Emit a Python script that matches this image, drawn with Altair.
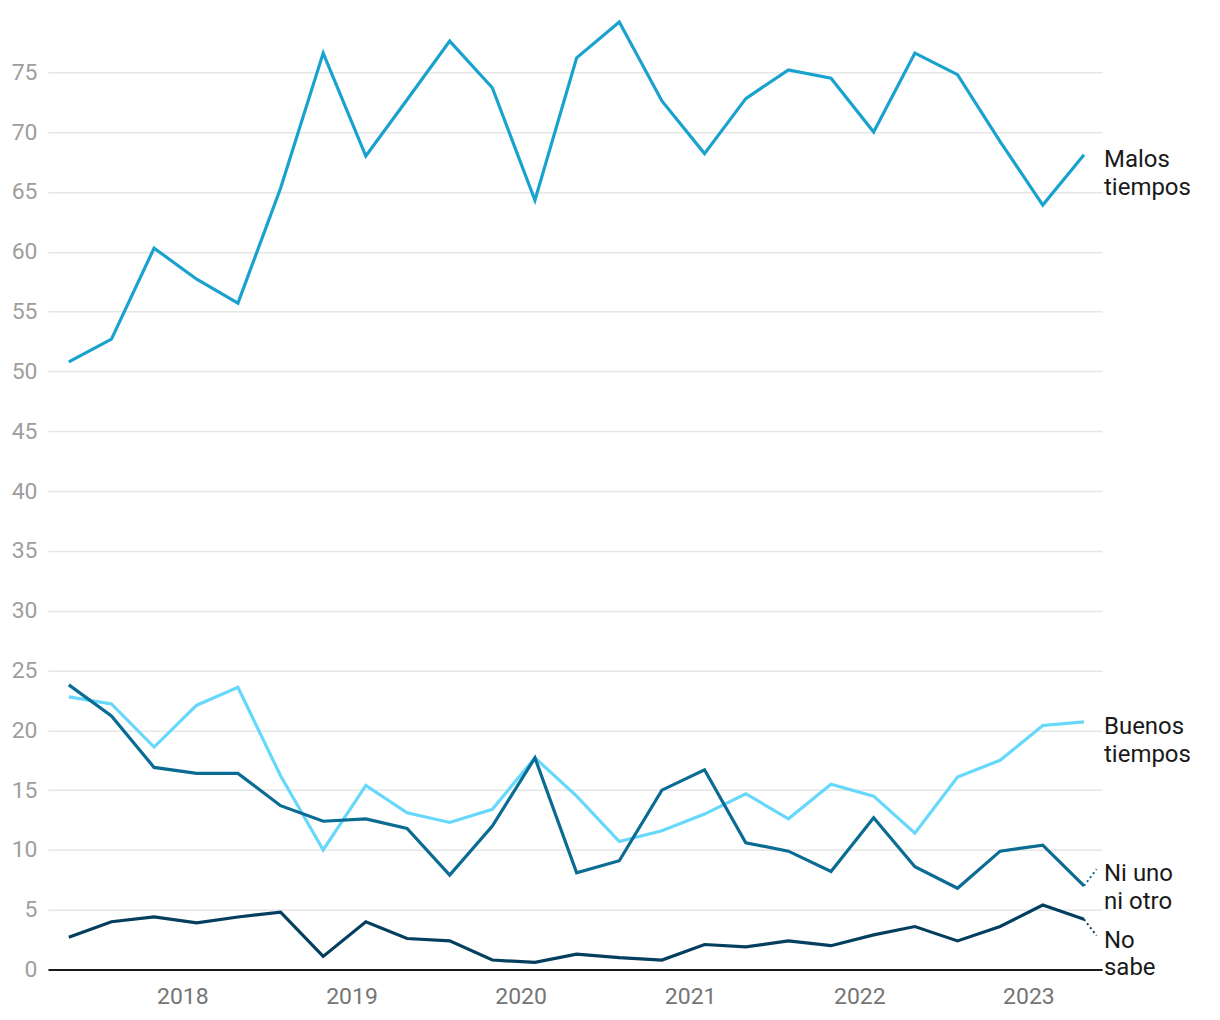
import altair as alt
import pandas as pd

# Quarterly survey dates
fechas = [
    "2017-05-01", "2017-08-01", "2017-11-01", "2018-02-01", "2018-05-01",
    "2018-08-01", "2018-11-01", "2019-02-01", "2019-05-01", "2019-08-01",
    "2019-11-01", "2020-02-01", "2020-05-01", "2020-08-01", "2020-11-01",
    "2021-02-01", "2021-05-01", "2021-08-01", "2021-11-01", "2022-02-01",
    "2022-05-01", "2022-08-01", "2022-11-01", "2023-02-01", "2023-05-01",
]

malos = [50.8, 52.7, 60.3, 57.7, 55.7, 65.3, 76.6, 68.0, 72.7, 77.6, 73.7, 64.3, 76.2,
         79.2, 72.6, 68.2, 72.8, 75.2, 74.5, 70.0, 76.6, 74.8, 69.2, 63.9, 68.1]
buenos = [22.8, 22.2, 18.6, 22.1, 23.6, 16.2, 10.0, 15.4, 13.1, 12.3, 13.4, 17.7, 14.5,
          10.7, 11.6, 13.0, 14.7, 12.6, 15.5, 14.5, 11.4, 16.1, 17.5, 20.4, 20.7]
ni_uno = [23.8, 21.2, 16.9, 16.4, 16.4, 13.7, 12.4, 12.6, 11.8, 7.9, 12.0, 17.7, 8.1,
          9.1, 15.0, 16.7, 10.6, 9.9, 8.2, 12.7, 8.6, 6.8, 9.9, 10.4, 7.0]
no_sabe = [2.7, 4.0, 4.4, 3.9, 4.4, 4.8, 1.1, 4.0, 2.6, 2.4, 0.8, 0.6, 1.3,
           1.0, 0.8, 2.1, 1.9, 2.4, 2.0, 2.9, 3.6, 2.4, 3.6, 5.4, 4.2]

series = ["Malos tiempos", "Buenos tiempos", "Ni uno ni otro", "No sabe"]
colores = ["#1aa2cf", "#66d8fb", "#0a6b93", "#053f5f"]
etiquetas = ["Malos\ntiempos", "Buenos\ntiempos", "Ni uno\nni otro", "No\nsabe"]
etiqueta_y = [68.1, 20.7, 8.4, 2.85]
fin_guia = "2023-05-28"

valores = [malos, buenos, ni_uno, no_sabe]

rows = []
for s, vals in zip(series, valores):
    for f, v in zip(fechas, vals):
        rows.append({"fecha": f + "T00:00:00", "serie": s, "valor": v})
df = pd.DataFrame(rows)

lab = pd.DataFrame({
    "serie": series,
    "texto": etiquetas,
    "fecha": [fechas[-1] + "T00:00:00"] * 4,
    "valor": etiqueta_y,
})

guia_rows = []
for s, vals, ly in zip(series[2:], valores[2:], etiqueta_y[2:]):
    guia_rows.append({"serie": s, "fecha": fechas[-1] + "T00:00:00", "valor": vals[-1]})
    guia_rows.append({"serie": s, "fecha": fin_guia + "T00:00:00", "valor": ly})
guia = pd.DataFrame(guia_rows)

xscale = alt.Scale(domain=["2017-03-17T00:00:00", "2023-06-09T00:00:00"])
yscale = alt.Scale(domain=[0, 80], nice=False)
cscale = alt.Scale(domain=series, range=colores)

x_enc = alt.X("fecha:T", scale=xscale, title=None,
              axis=alt.Axis(format="%Y", tickCount={"interval": "year", "step": 1},
                            grid=False, ticks=False, tickSize=0,
                            domainColor="#1a1a1a", domainWidth=2,
                            labelFontSize=23, labelColor="#757575", labelPadding=16,
                            labelFont="Roboto"))
y_enc = alt.Y("valor:Q", scale=yscale, title=None,
              axis=alt.Axis(values=list(range(0, 80, 5)), grid=True,
                            gridColor="#e6e6e6", gridWidth=1.5, domain=False,
                            ticks=False, tickSize=0, labelFontSize=23,
                            labelColor="#9e9e9e", labelPadding=11, labelFont="Roboto"))

lines = alt.Chart(df).mark_line(strokeWidth=3.2).encode(
    x=x_enc, y=y_enc,
    color=alt.Color("serie:N", scale=cscale, legend=None),
    order=alt.Order("fecha:T"),
)

leaders = alt.Chart(guia).mark_line(strokeWidth=2, strokeDash=[2, 3]).encode(
    x=alt.X("fecha:T", scale=xscale),
    y=alt.Y("valor:Q", scale=yscale),
    color=alt.Color("serie:N", scale=cscale, legend=None),
    detail="serie:N",
)

labels = alt.Chart(lab).mark_text(
    align="left", baseline="alphabetic", dx=20, dy=12, fontSize=24,
    font="Roboto", color="#1a1a1a", lineBreak="\n", lineHeight=28,
).encode(
    x=alt.X("fecha:T", scale=xscale),
    y=alt.Y("valor:Q", scale=yscale),
    text="texto:N",
)

chart = alt.layer(lines, leaders, labels).properties(
    width=1055, height=958,
    autosize=alt.AutoSizeParams(type="none"),
    padding={"left": 40, "top": 4, "right": 110, "bottom": 40},
).configure(font="Roboto").configure_view(stroke=None, strokeWidth=0)

chart.save("out.html", embed_options={"renderer": "svg", "actions": False})
